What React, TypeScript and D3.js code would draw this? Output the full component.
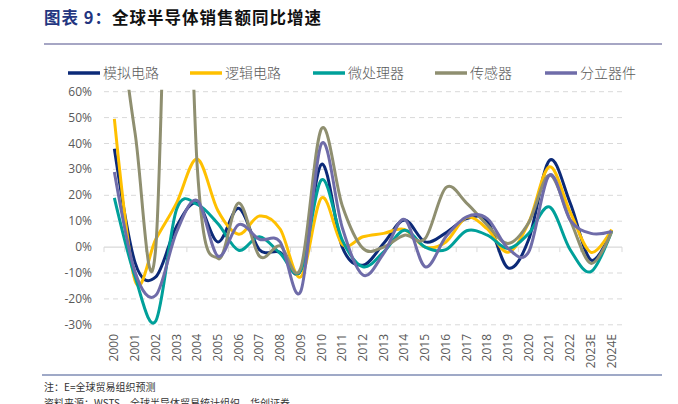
import React from "react";
import * as d3 from "d3";

const years = [
  "2000", "2001", "2002", "2003", "2004", "2005", "2006", "2007", "2008", "2009",
  "2010", "2011", "2012", "2013", "2014", "2015", "2016", "2017", "2018", "2019",
  "2020", "2021", "2022", "2023E", "2024E",
];

// 同比增速 (%)
const analog = [38, -6, -11.5, 8, 17, 2, 15, -1, -2, -9, 32, 0, -7, 1.5, 10.5, 2, 5.5, 11, 10, -8, 3, 33.5, 17, -5, 6.5];
const logic = [49.5, -13, 3, 17, 34, 14, 5, 12, 7, -11.5, 19, 1, 4, 5.3, 6.8, 0, 2, 11.5, 7, -2, 9.5, 31, 13.5, -2, 6.8];
const micro = [19, -11.5, -28.5, 14.5, 16.5, 9, -1.2, 4, -2.4, -9, 26, 2.7, -7.6, -1.8, 6.5, 0, -1, 6.3, 4.6, -0.5, 5.3, 15.5, -1, -9.5, 6];
const sensor = [105, 44, 0, 237, 31, -4.4, 17, -3.5, 0.5, -8, 45.8, 16, -0.5, 0, 4.6, 3.3, 23, 17, 8.5, 1.4, 9.5, 27.8, 10.4, -6.3, 6];
const discrete = [29, -9.6, -18.6, 5.8, 18, -3.5, 8.7, 3, 2, -17, 40, 7.5, -10.8, -2.4, 10.7, -7.6, 4, 11.7, 11, -0.5, -1.8, 27.8, 10.4, 5.3, 6];

const yTicks = [60, 50, 40, 30, 20, 10, 0, -10, -20, -30];

const series = [
  { name: "模拟电路", values: analog, color: "#0C2A78" },
  { name: "逻辑电路", values: logic, color: "#FFC000" },
  { name: "微处理器", values: micro, color: "#00A09A" },
  { name: "传感器", values: sensor, color: "#8F8F70" },
  { name: "分立器件", values: discrete, color: "#6F6CA9" },
];

const W = 678;
const H = 404;
const plot = { left: 104, right: 622, top: 91.7, bottom: 324.8 };

const App: React.FC = () => {
  const x = d3.scaleBand<string>().domain(years).range([plot.left, plot.right]);
  const y = d3.scaleLinear().domain([-30, 60]).range([plot.bottom, plot.top]);
  const cx = (c: string) => (x(c) as number) + x.bandwidth() / 2;

  const line = d3
    .line<number>()
    .x((_, i) => cx(years[i]))
    .y((d) => y(d))
    .curve(d3.curveCatmullRom.alpha(0));

  const legendX = [68, 190, 313, 435, 545];

  return (
    <svg
      width={W}
      height={H}
      style={{ position: "fixed", left: 0, top: 0, background: "#fff" }}
    >
      <defs>
        <clipPath id="plotClip">
          <rect x={plot.left} y={plot.top - 2} width={plot.right - plot.left} height={plot.bottom - plot.top + 4} />
        </clipPath>
      </defs>

      {/* title */}
      <text
        x={44}
        y={24}
        fontFamily="'Noto Sans CJK SC'"
        fontWeight={700}
        fontSize={16.5}
        letterSpacing={1}
      >
        <tspan fill="#23357F">图表 9：</tspan>
        <tspan fill="#111">全球半导体销售额同比增速</tspan>
      </text>
      <line x1={44} x2={662} y1={44} y2={44} stroke="#A6A6C4" strokeWidth={2} />

      {/* legend */}
      {series.map((s, i) => (
        <g key={s.name}>
          <line
            x1={legendX[i]}
            x2={legendX[i] + 32}
            y1={73}
            y2={73}
            stroke={s.color}
            strokeWidth={3.5}
          />
          <text
            x={legendX[i] + 35}
            y={78}
            fontFamily="'Noto Sans CJK SC'"
            fontWeight={300}
            fontSize={14}
            fill="#595959"
          >
            {s.name}
          </text>
        </g>
      ))}

      {/* grid */}
      {yTicks.map((t) => (
        <g key={t}>
          {t !== 0 && (
            <line
              x1={plot.left}
              x2={plot.right}
              y1={y(t)}
              y2={y(t)}
              stroke="#D9D9D9"
              strokeWidth={1}
              strokeDasharray="5,4"
            />
          )}
          <text
            x={92}
            y={y(t) + 4}
            textAnchor="end"
            fontFamily="'Open Sans'"
            fontSize={12}
            fill="#595959"
          >
            {t}%
          </text>
        </g>
      ))}

      {/* zero axis */}
      <line x1={plot.left} x2={plot.right} y1={y(0)} y2={y(0)} stroke="#D9D9D9" strokeWidth={1.2} />
      {years.concat(["end"]).map((c, i) => {
        const tx = plot.left + i * x.bandwidth();
        return <line key={c} x1={tx} x2={tx} y1={y(0)} y2={y(0) + 5} stroke="#D9D9D9" strokeWidth={1} />;
      })}

      {/* lines */}
      <g clipPath="url(#plotClip)">
        {series.map((s) => (
          <path
            key={s.name}
            d={line(s.values) || ""}
            fill="none"
            stroke={s.color}
            strokeWidth={3}
            strokeLinejoin="round"
          />
        ))}
      </g>

      {/* x labels */}
      {years.map((c) => (
        <text
          key={c}
          transform={`translate(${cx(c) + 4},${334}) rotate(-90)`}
          textAnchor="end"
          fontFamily="'Open Sans'"
          fontSize={12}
          fill="#595959"
        >
          {c}
        </text>
      ))}

      {/* footer */}
      <line x1={42} x2={662} y1={375} y2={375} stroke="#7F8DB5" strokeWidth={1.5} />
      <text x={44} y={391} fontFamily="'Noto Sans CJK SC'" fontSize={10} fill="#333">
        注：E=全球贸易组织预测
      </text>
      <text x={44} y={407} fontFamily="'Noto Sans CJK SC'" fontSize={10} fill="#333">
        资料来源：WSTS，全球半导体贸易统计组织，华创证券
      </text>
    </svg>
  );
};

export default App;
